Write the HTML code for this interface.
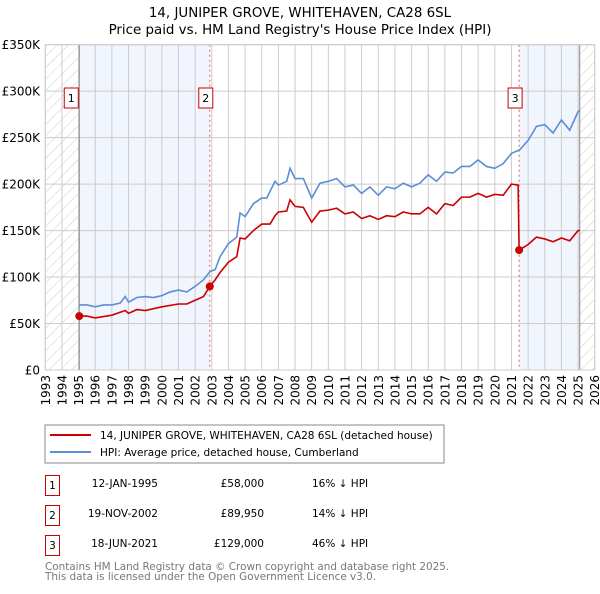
<!DOCTYPE html>
<html><head><meta charset="utf-8"><style>
body{margin:0;background:#fff;width:600px;height:590px;overflow:hidden;font-family:"DejaVu Sans","Liberation Sans",sans-serif}
svg text{font-family:"DejaVu Sans","Liberation Sans",sans-serif}
</style></head><body>
<svg id="c" width="600" height="590" xmlns="http://www.w3.org/2000/svg">
<defs><pattern id="hatch" width="8" height="8" patternUnits="userSpaceOnUse" patternTransform="rotate(45)"><line x1="0" y1="0" x2="0" y2="8" stroke="#ccc" stroke-width="1"/></pattern></defs>
<text x="300" y="17" text-anchor="middle" font-size="13.4">14, JUNIPER GROVE, WHITEHAVEN, CA28 6SL</text>
<text x="300" y="34" text-anchor="middle" font-size="13.4">Price paid vs. HM Land Registry's House Price Index (HPI)</text>
<g id="plot"></g>
<rect x="45" y="425" width="399" height="38" fill="#fff" stroke="#888"/>
<line x1="50" y1="435" x2="91" y2="435" stroke="#cc0000" stroke-width="2"/>
<text x="100" y="439" font-size="10.5">14, JUNIPER GROVE, WHITEHAVEN, CA28 6SL (detached house)</text>
<line x1="50" y1="452" x2="91" y2="452" stroke="#5b8ed6" stroke-width="2"/>
<text x="100" y="456" font-size="10.5">HPI: Average price, detached house, Cumberland</text>
<g font-size="10.5">
<rect x="45.5" y="475.5" width="14" height="20" fill="#fff" stroke="#cc0000"/><text x="52.5" y="489" text-anchor="middle">1</text>
<text x="158" y="487" text-anchor="end">12-JAN-1995</text><text x="264" y="487" text-anchor="end">£58,000</text><text x="312" y="487">16% ↓ HPI</text>
<rect x="45.5" y="505.5" width="14" height="20" fill="#fff" stroke="#cc0000"/><text x="52.5" y="519" text-anchor="middle">2</text>
<text x="158" y="517" text-anchor="end">19-NOV-2002</text><text x="264" y="517" text-anchor="end">£89,950</text><text x="312" y="517">14% ↓ HPI</text>
<rect x="45.5" y="535.5" width="14" height="20" fill="#fff" stroke="#cc0000"/><text x="52.5" y="549" text-anchor="middle">3</text>
<text x="158" y="547" text-anchor="end">18-JUN-2021</text><text x="264" y="547" text-anchor="end">£129,000</text><text x="312" y="547">46% ↓ HPI</text>
</g>
<text x="45" y="570" font-size="10.4" fill="#777">Contains HM Land Registry data © Crown copyright and database right 2025.</text>
<text x="45" y="580" font-size="10.4" fill="#777">This data is licensed under the Open Government Licence v3.0.</text>
</svg>
<script>
const hpiYears=[1995.04,1995.5,1996,1996.5,1997,1997.5,1997.8,1998,1998.5,1999,1999.5,2000,2000.5,2001,2001.5,2002,2002.5,2002.9,2003.2,2003.5,2004,2004.5,2004.7,2005,2005.5,2006,2006.3,2006.8,2007,2007.5,2007.7,2008,2008.5,2009,2009.5,2010,2010.5,2011,2011.5,2012,2012.5,2013,2013.5,2014,2014.5,2015,2015.5,2016,2016.5,2017,2017.5,2018,2018.5,2019,2019.5,2020,2020.5,2021,2021.5,2022,2022.5,2023,2023.5,2024,2024.5,2025,2025.1];
const hpiValues=[70,70,68,70,70,72,79,73,78,79,78,80,84,86,84,90,97,106,108,122,136,143,169,165,179,185,185,203,199,203,217,206,206,185,201,203,206,197,199,190,197,188,197,195,201,197,201,210,203,213,212,219,219,226,219,217,222,233,237,247,262,264,255,269,258,278,279];
const priceYears=[1995.04,1995.5,1996,1997,1997.8,1998,1998.5,1999,2000,2001,2001.5,2002,2002.5,2002.88,2003.2,2003.5,2004,2004.5,2004.7,2005,2005.5,2006,2006.5,2006.8,2007,2007.5,2007.7,2008,2008.5,2009,2009.5,2010,2010.5,2011,2011.5,2012,2012.5,2013,2013.5,2014,2014.5,2015,2015.5,2016,2016.5,2017,2017.5,2018,2018.5,2019,2019.5,2020,2020.5,2021,2021.4,2021.46,2022,2022.5,2023,2023.5,2024,2024.5,2025,2025.1];
const priceValues=[58,58,56,59,64,61,65,64,68,71,71,75,79,90,97,105,116,122,142,141,150,157,157,166,170,171,183,176,175,159,171,172,174,168,170,163,166,162,166,165,170,168,168,175,168,179,177,186,186,190,186,189,188,200,199,129,135,143,141,138,142,139,150,150];
const saleYears=[1995.04,2002.88,2021.46];
const saleValues=[58,89.95,129];
const saleLabels=["1","2","3"];
const yTicks=[0,50,100,150,200,250,300,350];
const yTickLabels=["£0","£50K","£100K","£150K","£200K","£250K","£300K","£350K"];
const x0=45.3,x1=594.7,yTop=44.7,yBot=370,xMin=1993,xMax=2026,vMax=350;
const X=v=>x0+(v-xMin)/(xMax-xMin)*(x1-x0);
const Y=v=>yBot-v/vMax*(yBot-yTop);
const NS='http://www.w3.org/2000/svg';
const g=document.getElementById('plot');
function mk(t,a){const e=document.createElementNS(NS,t);for(const k in a)e.setAttribute(k,a[k]);g.appendChild(e);return e;}
let e;
e=mk('rect',{x:X(xMin),y:yTop,width:X(saleYears[0])-X(xMin),height:yBot-yTop,fill:'url(#hatch)'});


e=mk('rect',{x:X(2025.1),y:yTop,width:X(xMax)-X(2025.1),height:yBot-yTop,fill:'url(#hatch)'});


e=mk('rect',{x:X(saleYears[0]),y:yTop,width:X(saleYears[1])-X(saleYears[0]),height:yBot-yTop,fill:'#eef3fc',opacity:0.8});


e=mk('rect',{x:X(saleYears[2]),y:yTop,width:X(2025.1)-X(saleYears[2]),height:yBot-yTop,fill:'#eef3fc',opacity:0.8});


for(let yr=xMin;yr<=xMax;yr++){
 e=mk('line',{x1:X(yr),x2:X(yr),y1:yTop,y2:yBot,stroke:'#cccccc','stroke-width':1});
 
 
 e=mk('text',{x:0,y:0,'font-size':12,'text-anchor':'end',transform:`translate(${X(yr)+4.5},${yBot+5}) rotate(-90)`});
 e.textContent=yr;
 
 
}
yTicks.forEach((v,i)=>{
 e=mk('line',{x1:x0,x2:x1,y1:Y(v),y2:Y(v),stroke:'#cccccc','stroke-width':1});
 
 
 e=mk('text',{x:40,y:Y(v)+4.5,'font-size':12,'text-anchor':'end'});
 e.textContent=yTickLabels[i];
 
 
});
e=mk('line',{x1:X(saleYears[0]),x2:X(saleYears[0]),y1:yTop,y2:yBot,stroke:'#888','stroke-width':1});


e=mk('line',{x1:X(2025.1),x2:X(2025.1),y1:yTop,y2:yBot,stroke:'#888','stroke-width':1});


[1,2].forEach(i=>{
 e=mk('line',{x1:X(saleYears[i]),x2:X(saleYears[i]),y1:yTop,y2:yBot,stroke:'#e06060','stroke-width':1,'stroke-dasharray':'2,3'});
 
 
});
e=mk('polyline',{points:hpiYears.map((t,i)=>X(t)+','+Y(hpiValues[i])).join(' '),fill:'none',stroke:'#5b8ed6','stroke-width':1.6});


e=mk('polyline',{points:priceYears.map((t,i)=>X(t)+','+Y(priceValues[i])).join(' '),fill:'none',stroke:'#cc0000','stroke-width':1.6});


saleYears.forEach((t,i)=>{
 e=mk('circle',{cx:X(t),cy:Y(saleValues[i]),r:4,fill:'#cc0000'});
 
 
 const lx=i==0?X(t)-8:X(t)-4;
 e=mk('rect',{x:lx-7,y:88,width:14,height:20,fill:'#fff',stroke:'#cc0000'});
 
 
 e=mk('text',{x:lx,y:102,'font-size':11,'text-anchor':'middle'});
 e.textContent=saleLabels[i];
 
 
});
e=mk('rect',{x:x0,y:yTop,width:x1-x0,height:yBot-yTop,fill:'none',stroke:'#cccccc'});


</script>
</body></html>
